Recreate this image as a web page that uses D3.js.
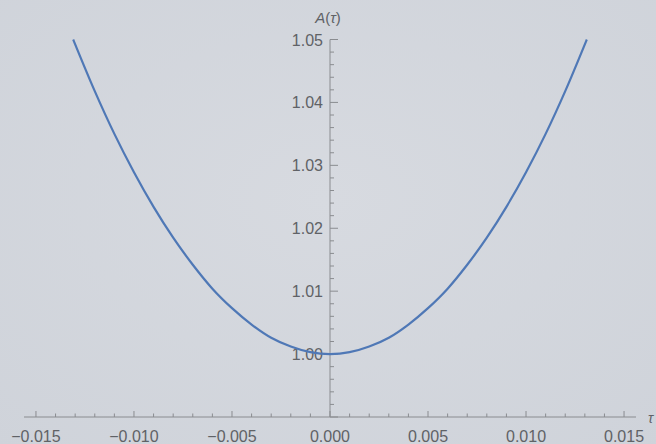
<!DOCTYPE html>
<html>
<head>
<meta charset="utf-8">
<script src="https://cdn.jsdelivr.net/npm/d3@7"></script>
<style>
  html, body { margin: 0; padding: 0; }
  body { width: 656px; height: 444px; overflow: hidden; }
  svg { display: block; font-family: "Liberation Sans", Arial, sans-serif; }
</style>
</head>
<body>
<svg id="chart" width="656" height="444"></svg>
<script>
// values (curve is symmetric about tau = 0)
const tauValues = [
  -0.0131, -0.012, -0.011, -0.010, -0.009, -0.008, -0.007, -0.006, -0.005, -0.004, -0.003, -0.002, -0.001,
  0,
  0.001, 0.002, 0.003, 0.004, 0.005, 0.006, 0.007, 0.008, 0.009, 0.010, 0.011, 0.012, 0.0131
];
const aValues = [
  1.0500, 1.0418, 1.0350, 1.0289, 1.0234, 1.0185, 1.0142, 1.0104, 1.0073, 1.0047, 1.0026, 1.0012, 1.0003,
  1.0000,
  1.0003, 1.0012, 1.0026, 1.0047, 1.0073, 1.0104, 1.0142, 1.0185, 1.0234, 1.0289, 1.0350, 1.0418, 1.0500
];
const xTicks = [-0.015, -0.010, -0.005, 0, 0.005, 0.010, 0.015];
const yTicks = [1.00, 1.01, 1.02, 1.03, 1.04, 1.05];

(function () {
    const W = 656, H = 444;
    const svg = d3.select("#chart");

    // background
    const defs = svg.append("defs");
    const grad = defs.append("radialGradient").attr("id", "bg")
        .attr("cx", "50%").attr("cy", "45%").attr("r", "75%");
    grad.append("stop").attr("offset", "0%").attr("stop-color", "#d7dae0");
    grad.append("stop").attr("offset", "100%").attr("stop-color", "#cfd3da");
    svg.append("rect").attr("width", W).attr("height", H).attr("fill", "url(#bg)");

    const x = d3.scaleLinear().domain([-0.01561, 0.01561]).range([24, 636]);
    const y = d3.scaleLinear().domain([0.99, 1.05]).range([417, 39.5]);

    const axisColor = "#8a8c90";
    const labelColor = "#606266";

    // x axis
    const gx = svg.append("g");
    gx.append("line")
        .attr("x1", x.range()[0]).attr("x2", x.range()[1])
        .attr("y1", y(0.99)).attr("y2", y(0.99))
        .attr("stroke", axisColor).attr("stroke-width", 1);
    const xMinor = d3.range(-15, 16).map(i => i / 1000);
    gx.selectAll("line.tick")
        .data(xMinor)
        .enter().append("line")
        .attr("class", "tick")
        .attr("x1", d => x(d)).attr("x2", d => x(d))
        .attr("y1", y(0.99))
        .attr("y2", (d, i) => y(0.99) - (i % 5 === 0 ? 6 : 3.5))
        .attr("stroke", axisColor).attr("stroke-width", 1);
    gx.selectAll("text")
        .data(xTicks)
        .enter().append("text")
        .attr("x", d => x(d))
        .attr("y", 442)
        .attr("text-anchor", "middle")
        .attr("font-size", 16)
        .attr("fill", labelColor)
        .text(d => (d < 0 ? "\u2212" : "") + Math.abs(d).toFixed(3));
    svg.append("text")
        .attr("x", 648).attr("y", 423)
        .attr("font-size", 14)
        .attr("font-style", "italic")
        .attr("fill", labelColor)
        .text("\u03c4");

    // y axis
    const gy = svg.append("g");
    gy.append("line")
        .attr("x1", x(0)).attr("x2", x(0))
        .attr("y1", y(1.05)).attr("y2", y(0.99))
        .attr("stroke", axisColor).attr("stroke-width", 1);
    const yMinor = d3.range(495, 526).map(i => i / 500);
    gy.selectAll("line.tick")
        .data(yMinor)
        .enter().append("line")
        .attr("class", "tick")
        .attr("x1", x(0))
        .attr("x2", (d, i) => x(0) + (i % 5 === 0 ? 8 : 4))
        .attr("y1", d => y(d)).attr("y2", d => y(d))
        .attr("stroke", axisColor).attr("stroke-width", 1);
    gy.selectAll("text")
        .data(yTicks)
        .enter().append("text")
        .attr("x", x(0) - 7)
        .attr("y", d => y(d) + 6)
        .attr("text-anchor", "end")
        .attr("font-size", 16)
        .attr("fill", labelColor)
        .text(d => d.toFixed(2));
    const yl = svg.append("text")
        .attr("x", 328).attr("y", 23)
        .attr("text-anchor", "middle")
        .attr("font-size", 15)
        .attr("fill", labelColor);
    yl.append("tspan").attr("font-style", "italic").text("A");
    yl.append("tspan").text("(");
    yl.append("tspan").attr("font-style", "italic").text("\u03c4");
    yl.append("tspan").text(")");

    // curve
    const pts = tauValues.map((t, i) => [t, aValues[i]]);
    const line = d3.line()
        .x(d => x(d[0]))
        .y(d => y(d[1]))
        .curve(d3.curveMonotoneX);
    svg.append("path")
        .datum(pts)
        .attr("d", line)
        .attr("fill", "none")
        .attr("stroke", "#4f78b6")
        .attr("stroke-width", 2.2);
})();
</script>
</body>
</html>
